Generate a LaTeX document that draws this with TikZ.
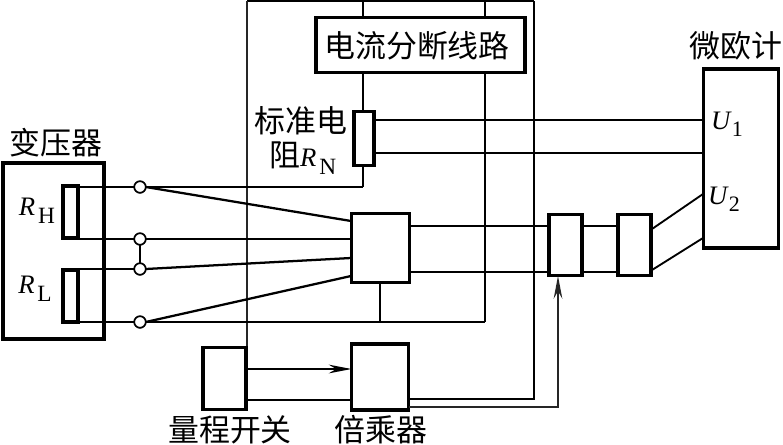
\documentclass[tikz,border=0pt]{standalone}
\usepackage{fontspec}
\setmainfont{Liberation Serif}
\newfontfamily\cjk{Noto Sans CJK SC}
\usetikzlibrary{arrows.meta}
\newcommand{\Rsub}[2]{\textit{#1}\kern2.2pt\raisebox{-0.3em}{\fontsize{17.5pt}{18pt}\selectfont #2}}
\newcommand{\Usub}[2]{\textit{#1}\raisebox{-0.28em}{\fontsize{16.5pt}{18pt}\selectfont #2}}
\tikzset{
  x=0.75pt,y=-0.75pt,
  wire/.style={line width=1.4pt,black},
  wirethin/.style={line width=1.05pt,black!85},
  hbox/.style={draw=black,line width=2.8pt,fill=white,inner sep=0pt,outer sep=0pt},
  term/.style={circle,draw=black,line width=1.2pt,fill=white,minimum size=8.6pt,inner sep=0pt,outer sep=0pt},
  lab/.style={inner sep=0pt,font=\fontsize{23.2pt}{27pt}\selectfont\cjk},
  sym/.style={inner sep=0pt,font=\fontsize{20pt}{24pt}\selectfont},
  tip/.style={-{Stealth[length=17pt,width=6.5pt,inset=5.5pt]}}
}
\newcommand{\bx}[5]{\node[hbox,minimum width=#4*0.75pt,minimum height=#5*0.75pt] (#1) at (#2,#3) {};}
\begin{document}
\begin{tikzpicture}
\useasboundingbox (0,0) rectangle (783,444);
% free corners and junctions
\coordinate (tl) at (247,1); \coordinate (tr) at (534,1);
\coordinate (a1) at (363,1); \coordinate (a2) at (485,1);
\coordinate (j1) at (363,187); \coordinate (j2) at (485,322); \coordinate (j3) at (380,322);
\coordinate (c534) at (534,399); \coordinate (c558) at (558,407);
% boxes
\draw[wire] (tl) -- (tr);
\draw[wirethin] (tl) -- (247,346);
\draw[wire] (tr) -- (c534) -- (409,399);
\draw[wire] (a1) -- (363,111);
\draw[wire] (a2) -- (j2);
\draw[wire] (363,166) -- (j1);
\bx{xf}{53.5}{251}{101}{176}
\bx{rh}{70.5}{212}{15}{52}
\bx{rl}{70.5}{296}{15}{52}
\bx{brk}{420.5}{45}{209}{55}
\bx{rn}{364}{138.5}{20}{54}
\bx{mid}{380.5}{248}{58}{69}
\bx{b3}{565.5}{245}{33}{61}
\bx{b4}{634.5}{245}{33}{61}
\bx{mic}{741}{158.5}{75}{179}
\bx{sw}{224.5}{378.5}{43}{62}
\bx{mul}{380}{377}{57}{66}
% terminals
\node[term] (c1) at (140,187) {};
\node[term] (c2) at (140,239) {};
\node[term] (c3) at (140,269) {};
\node[term] (c4) at (140,322) {};
% wires
\draw[wire] (rh.east|-c1) -- (c1);
\draw[wire] (rh.east|-c2) -- (c2);
\draw[wire] (rl.east|-c3) -- (c3);
\draw[wire] (rl.east|-c4) -- (c4);
\draw[wire] (c1) -- (j1);
\draw[wire] (c2) -- (mid.west|-c2);
\draw[wire] (c2) -- (c3);
\draw[wire,line width=1.7pt] (c1.east) -- (351,221);
\draw[wire,line width=1.7pt] (c3.east) -- (351,258);
\draw[wire,line width=1.7pt] (c4.east) -- (351,276);
\draw[wire] (c4) -- (j2);
\draw[wire] (380,283) -- (j3);
\draw[wire] (375,120) -- (703,120);
\draw[wire] (375,153) -- (703,153);
\draw[wire] (410,226) -- (548,226);
\draw[wire] (410,272) -- (548,272);
\draw[wire] (583,226) -- (617,226);
\draw[wire] (583,272) -- (617,272);
\draw[wire] (652,229) -- (703,194);
\draw[wire] (652,270) -- (703,238);
\draw[wire,tip] (247,369) -- (mul.west|-0,369);
\draw[wire] (247,400) -- (mul.west|-0,400);
\draw[wirethin,tip] (409,407) -- (c558) -- (558,276);
% redraw terminals over wires
\node[term] at (c1) {};
\node[term] at (c2) {};
\node[term] at (c3) {};
\node[term] at (c4) {};
% labels
\node[lab] (t1) at (56,143) {变压器};
\node[lab] (t2) at (417,46) {电流分断线路};
\node[lab] (t3) at (736,46) {微欧计};
\node[lab] (t4) at (301,121) {标准电};
\node[lab,anchor=west] (t5) at (269,158) {阻\fontsize{20pt}{24pt}\selectfont\rmfamily\Rsub{R}{N}};
\node[lab] (t6) at (230,430) {量程开关};
\node[lab] (t7) at (381,430) {倍乘器};
\node[sym] (s1) at (37,211) {\Rsub{R}{H}};
\node[sym] (s2) at (35,289) {\Rsub{R}{L}};
\node[sym] (s3) at (727,124) {\Usub{U}{1}};
\node[sym] (s4) at (724,199) {\Usub{U}{2}};
\end{tikzpicture}
\end{document}
